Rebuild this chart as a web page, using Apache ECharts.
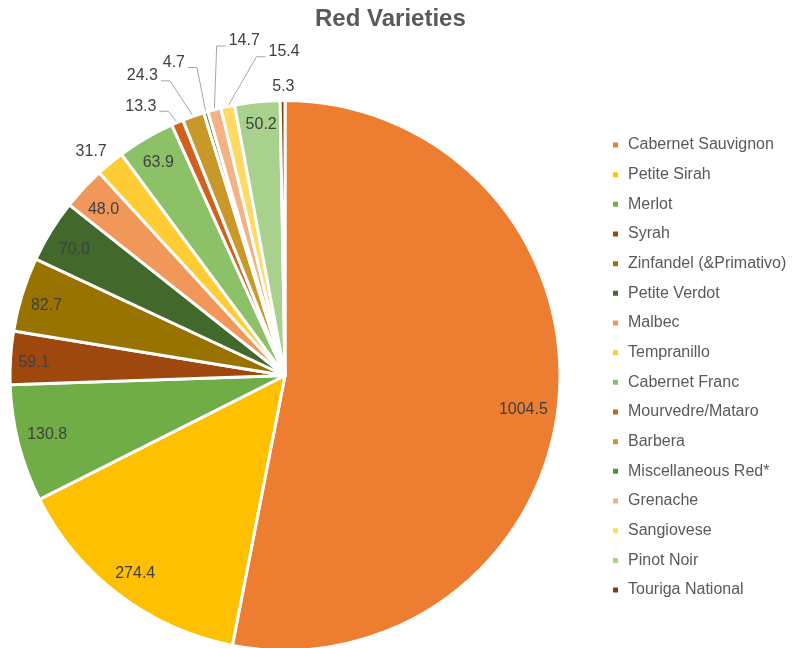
<!DOCTYPE html>
<html>
<head>
<meta charset="utf-8">
<script src="https://cdn.jsdelivr.net/npm/echarts@6/dist/echarts.min.js"></script>
<style>html,body{margin:0;padding:0;background:#fff;}#main{width:805px;height:648px;}</style>
</head>
<body>
<div id="main"></div>
<script>
const categories = ['Cabernet Sauvignon','Petite Sirah','Merlot','Syrah','Zinfandel (&Primativo)','Petite Verdot','Malbec','Tempranillo','Cabernet Franc','Mourvedre/Mataro','Barbera','Miscellaneous Red*','Grenache','Sangiovese','Pinot Noir','Touriga National'];
const values = [1004.5, 274.4, 130.8, 59.1, 82.7, 70.0, 48.0, 31.7, 63.9, 13.3, 24.3, 4.7, 14.7, 15.4, 50.2, 5.3];
const colors = ['#ED7D31','#FFC000','#70AD47','#9E480E','#997300','#43682B','#F1975A','#FFCD33','#8CC168','#D0601E','#C9982B','#578C36','#F4B183','#FFD966','#A9D18E','#843C0C'];
const outsideIdx = [7, 9, 10, 11, 12, 13, 15];
const noLineIdx = [7, 15];
// label nudges (layout only, pixels relative to default label placement)
const outOff = {7: [16, -4], 9: [-4, -7], 10: [-19, -31], 11: [-5, -40], 12: [61, -59], 13: [87, -45], 15: [25, -4]};
const inOff = {0: [-7, 10], 1: [-1, 2], 2: [1, -2], 3: [-5, 3], 4: [-3, 3], 5: [-1, 4], 6: [-1, 2], 8: [-2, 0], 14: [1, -6]};

const chart = echarts.init(document.getElementById('main'));
const center = [285, 375.5];
const R = 275;
const fmt = p => p.value.toFixed(1);

// mid angle of each slice (clockwise from 12 o'clock), derived from the values
const total = values.reduce((a, b) => a + b, 0);
const midAngles = [];
values.reduce((acc, v) => { midAngles.push((acc + v / 2) / total * 2 * Math.PI); return acc + v; }, 0);

const nudge = (table, withLine) => function (p) {
  const i = p.dataIndex;
  const o = table[i] || [0, 0];
  const cx = p.labelRect.x + p.labelRect.width / 2 + o[0];
  const cy = p.labelRect.y + p.labelRect.height / 2 + o[1];
  const res = {x: cx, y: cy, align: 'center', verticalAlign: 'middle'};
  if (withLine && noLineIdx.indexOf(i) < 0) {
    const a = midAngles[i];
    const ex = center[0] + R * Math.sin(a), ey = center[1] - R * Math.cos(a);
    const yl = cy + 5;
    const hw = p.labelRect.width / 2;
    const sx = cx < ex ? cx + hw + 3 : cx - hw - 3;
    const mx = cx < ex ? sx + 9 : sx - 9;
    res.labelLinePoints = [[ex, ey], [mx, yl], [sx, yl]];
  }
  return res;
};

const mainData = categories.map((n, i) => ({
  name: n, value: values[i],
  itemStyle: {color: colors[i]},
  label: {show: outsideIdx.indexOf(i) >= 0},
  labelLine: {show: outsideIdx.indexOf(i) >= 0 && noLineIdx.indexOf(i) < 0}
}));
const helperData = categories.map((n, i) => ({
  name: n, value: values[i],
  label: {show: outsideIdx.indexOf(i) < 0}
}));

chart.setOption({
  animation: false,
  title: {
    text: 'Red Varieties', left: 310, top: 2,
    textStyle: {fontFamily: 'Liberation Sans', fontSize: 24, fontWeight: 'bold', color: '#595959'}
  },
  legend: {
    orient: 'vertical', left: 611, top: 137, padding: 0,
    data: categories,
    icon: 'rect', itemWidth: 7, itemHeight: 7, itemGap: 13.67,
    textStyle: {fontFamily: 'Liberation Sans', fontSize: 16, color: '#595959', lineHeight: 16, padding: [0,0,0,4]},
    selectedMode: false
  },
  series: [
    {
      type: 'pie', center: center, radius: [0, R], startAngle: 90, clockwise: true,
      avoidLabelOverlap: false,
      itemStyle: {borderColor: '#fff', borderWidth: 3},
      label: {position: 'outside', formatter: fmt, fontFamily: 'Liberation Sans', fontSize: 16, color: '#404040'},
      labelLine: {length: 10, length2: 8, lineStyle: {color: '#A6A6A6', width: 1}},
      labelLayout: nudge(outOff, true),
      emphasis: {disabled: true},
      data: mainData
    },
    {
      type: 'pie', center: center, radius: [212, R], startAngle: 90, clockwise: true,
      silent: true, legendHoverLink: false,
      itemStyle: {color: 'rgba(0,0,0,0)', borderWidth: 0},
      label: {position: 'inside', formatter: fmt, fontFamily: 'Liberation Sans', fontSize: 16, color: '#404040'},
      labelLine: {show: false},
      labelLayout: nudge(inOff, false),
      emphasis: {disabled: true},
      data: helperData
    }
  ]
});
</script>
</body>
</html>
